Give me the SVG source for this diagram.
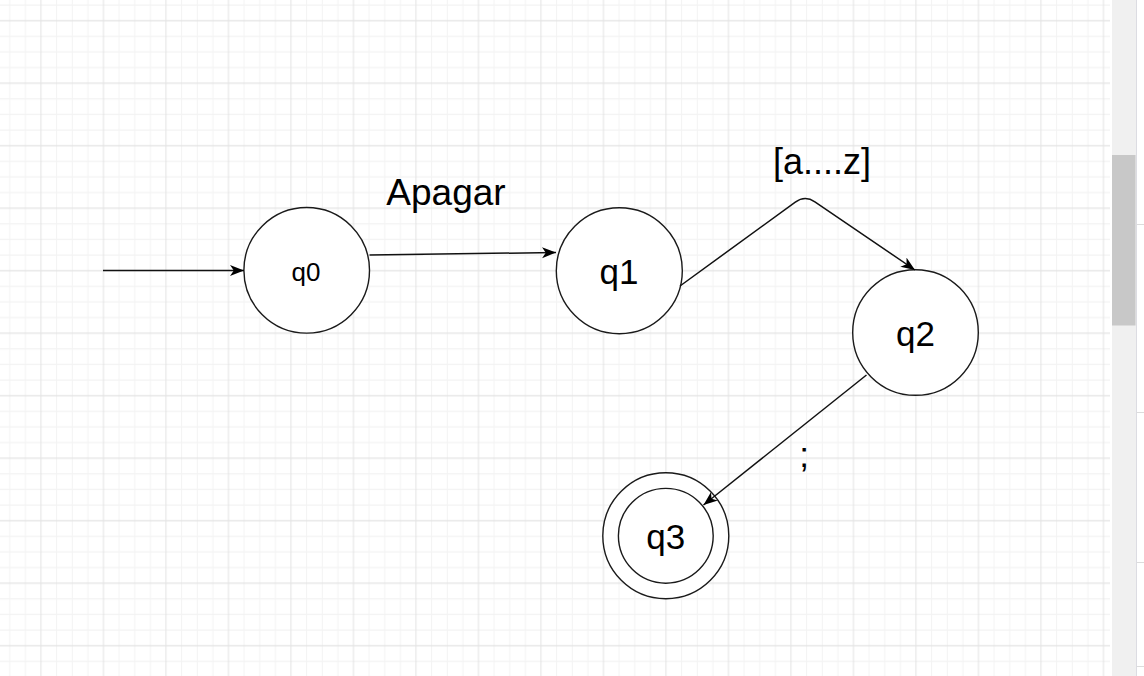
<svg xmlns="http://www.w3.org/2000/svg" width="1144" height="676" viewBox="0 0 1144 676">
  <defs>
    <pattern id="grid" patternUnits="userSpaceOnUse" x="33.1875" y="12.8875" width="62.5" height="62.5">
      <g stroke="#f3f3f3" stroke-width="1">
        <line x1="23.4375" y1="0" x2="23.4375" y2="62.5"/>
        <line x1="39.0625" y1="0" x2="39.0625" y2="62.5"/>
        <line x1="54.6875" y1="0" x2="54.6875" y2="62.5"/>
        <line x1="0" y1="23.4375" x2="62.5" y2="23.4375"/>
        <line x1="0" y1="39.0625" x2="62.5" y2="39.0625"/>
        <line x1="0" y1="54.6875" x2="62.5" y2="54.6875"/>
      </g>
      <g stroke="#e3e3e3" stroke-width="1">
        <line x1="7.8125" y1="0" x2="7.8125" y2="62.5"/>
        <line x1="0" y1="7.8125" x2="62.5" y2="7.8125"/>
      </g>
    </pattern>
    <marker id="arrow" markerUnits="userSpaceOnUse" markerWidth="15" markerHeight="12" refX="14" refY="6" orient="auto" viewBox="0 0 15 12">
      <path d="M0,0.5 L14,6 L0,11.5 L3.8,6 Z" fill="#000"/>
    </marker>
    <style>
      .state { fill: #ffffff; stroke: #1a1a1a; stroke-width: 1.4; }
      .edge { fill: none; stroke: #111; stroke-width: 1.5; marker-end: url(#arrow); }
      .lbl { font-family: "Liberation Sans", Arial, sans-serif; fill: #000; text-anchor: middle; }
    </style>
  </defs>

  <!-- background and grid -->
  <rect x="0" y="0" width="1144" height="676" fill="#ffffff"/>
  <rect x="0" y="0" width="1110" height="676" fill="url(#grid)"/>

  <!-- scrollbar -->
  <rect x="1112" y="0" width="24" height="676" fill="#f0f0f0"/>
  <rect x="1112" y="155" width="23.5" height="170.5" fill="#c8c8c8"/>
  <line x1="1136.5" y1="0" x2="1136.5" y2="676" stroke="#dcdce2" stroke-width="1"/>
  <g stroke="#dcdcdc" stroke-width="1">
    <line x1="1137" y1="224.5" x2="1144" y2="224.5"/>
    <line x1="1137" y1="412.5" x2="1144" y2="412.5"/>
    <line x1="1137" y1="562.5" x2="1144" y2="562.5"/>
    <line x1="1137" y1="666.5" x2="1144" y2="666.5"/>
  </g>

  <!-- nodes -->
  <g id="q0">
    <circle class="state" cx="306.7" cy="270.3" r="62.8"/>
    <text class="lbl" x="306" y="280.5" font-size="26">q0</text>
  </g>
  <g id="q1">
    <circle class="state" cx="619.3" cy="270.7" r="63"/>
    <text class="lbl" x="619" y="283.5" font-size="35">q1</text>
  </g>
  <g id="q2">
    <circle class="state" cx="915.5" cy="332.5" r="62.8"/>
    <text class="lbl" x="915.5" y="345.5" font-size="35">q2</text>
  </g>
  <g id="q3">
    <circle class="state" cx="665.8" cy="535.8" r="63"/>
    <circle class="state" cx="665.8" cy="535.8" r="47.4"/>
    <text class="lbl" x="665.8" y="548.5" font-size="35">q3</text>
  </g>

  <!-- connectors -->
  <g id="connectors">
    <path class="edge" d="M103,270.5 L244,270.5"/>
    <path class="edge" d="M369.5,255 L556,252.5"/>
    <path class="edge" d="M680,286 L795.3,202.1 Q805,195 814.9,201.8 L915,270"/>
    <path class="edge" d="M866.5,375 L703.5,505"/>
    <text class="lbl" x="446" y="205" font-size="37">Apagar</text>
    <text class="lbl" x="822" y="174" font-size="36">[a....z]</text>
    <text class="lbl" x="804" y="467" font-size="35">;</text>
  </g>
</svg>
